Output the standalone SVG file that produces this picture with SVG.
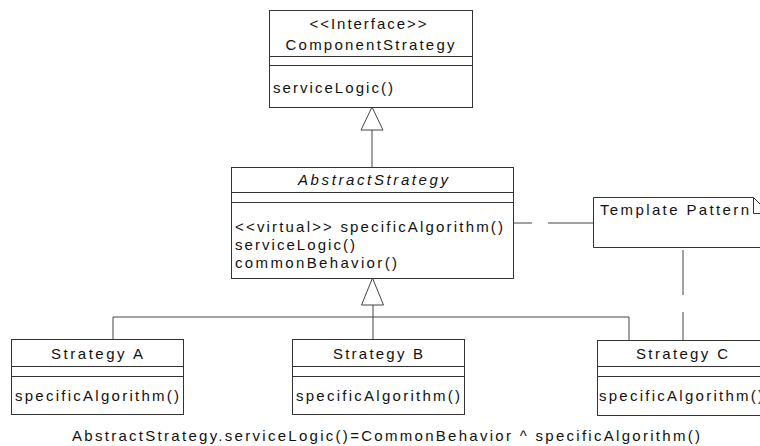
<svg xmlns="http://www.w3.org/2000/svg" width="760" height="446" viewBox="0 0 760 446">
<style>
.box{fill:#fff;stroke:#333;stroke-width:1}
.sep{stroke:#333;stroke-width:1;fill:none}
.con{stroke:#444;stroke-width:1;fill:none}
.tri{fill:#fff;stroke:#444;stroke-width:1}
text{font-family:"Liberation Sans",Arial,sans-serif;font-size:15px;fill:#111}
.c{text-anchor:middle}
.i{font-style:italic}
</style>
<rect width="760" height="446" fill="#fff"/>
<g id="connectors">
<line class="con" x1="372" y1="130" x2="372" y2="167"/>
<polygon class="tri" points="372,107 361,130 383,130"/>
<polyline class="con" points="113,339 113,317 629,317 629,340"/>
<line class="con" x1="373" y1="305" x2="373" y2="339"/>
<polygon class="tri" points="372.5,278 361.5,305 383.5,305"/>
<path class="con" d="M513,223 H532 M548,223 H593 M683,250 V295 M683,312 V340"/>
</g>
<g id="ComponentStrategy">
<rect class="box" x="269.5" y="10.5" width="203" height="97"/>
<path class="sep" d="M269.5,56.5 H472.5 M269.5,65.5 H472.5"/>
<text class="c" x="368" y="29" textLength="117" lengthAdjust="spacing">&lt;&lt;Interface&gt;&gt;</text>
<text class="c" x="370" y="50" textLength="169" lengthAdjust="spacing">ComponentStrategy</text>
<text x="273" y="93" textLength="120" lengthAdjust="spacing">serviceLogic()</text>
</g>
<g id="AbstractStrategy">
<rect class="box" x="231.5" y="167.5" width="282" height="111"/>
<path class="sep" d="M231.5,192.5 H513.5 M231.5,202.5 H513.5"/>
<text class="c i" x="373" y="185" textLength="150" lengthAdjust="spacing">AbstractStrategy</text>
<text x="235" y="232" textLength="268" lengthAdjust="spacing">&lt;&lt;virtual&gt;&gt; specificAlgorithm()</text>
<text x="235" y="250" textLength="120" lengthAdjust="spacing">serviceLogic()</text>
<text x="235" y="268" textLength="162" lengthAdjust="spacing">commonBehavior()</text>
</g>
<g id="TemplatePattern">
<path class="box" d="M593.5,197.5 H753.5 L769.5,213.5 V247.5 H593.5 Z"/>
<path class="sep" d="M753.5,197.5 V213.5 H769.5"/>
<text x="600" y="215" textLength="149" lengthAdjust="spacing">Template Pattern</text>
</g>
<g id="StrategyA">
<rect class="box" x="11.5" y="339.5" width="172" height="75"/>
<path class="sep" d="M11.5,366.5 H183.5 M11.5,376.5 H183.5"/>
<text class="c" x="97" y="359" textLength="92" lengthAdjust="spacing">Strategy A</text>
<text x="15" y="401" textLength="164" lengthAdjust="spacing">specificAlgorithm()</text>
</g>
<g id="StrategyB">
<rect class="box" x="292.5" y="339.5" width="172" height="75"/>
<path class="sep" d="M292.5,366.5 H464.5 M292.5,376.5 H464.5"/>
<text class="c" x="378" y="359" textLength="90" lengthAdjust="spacing">Strategy B</text>
<text x="296" y="401" textLength="164" lengthAdjust="spacing">specificAlgorithm()</text>
</g>
<g id="StrategyC">
<rect class="box" x="597.5" y="340.5" width="172" height="75"/>
<path class="sep" d="M597.5,366.5 H769.5 M597.5,376.5 H769.5"/>
<text class="c" x="682" y="359" textLength="92" lengthAdjust="spacing">Strategy C</text>
<text x="599" y="401" textLength="164" lengthAdjust="spacing">specificAlgorithm()</text>
</g>
<g id="formula">
<text x="72" y="441" textLength="628" lengthAdjust="spacing">AbstractStrategy.serviceLogic()=CommonBehavior ^ specificAlgorithm()</text>
</g>
</svg>
